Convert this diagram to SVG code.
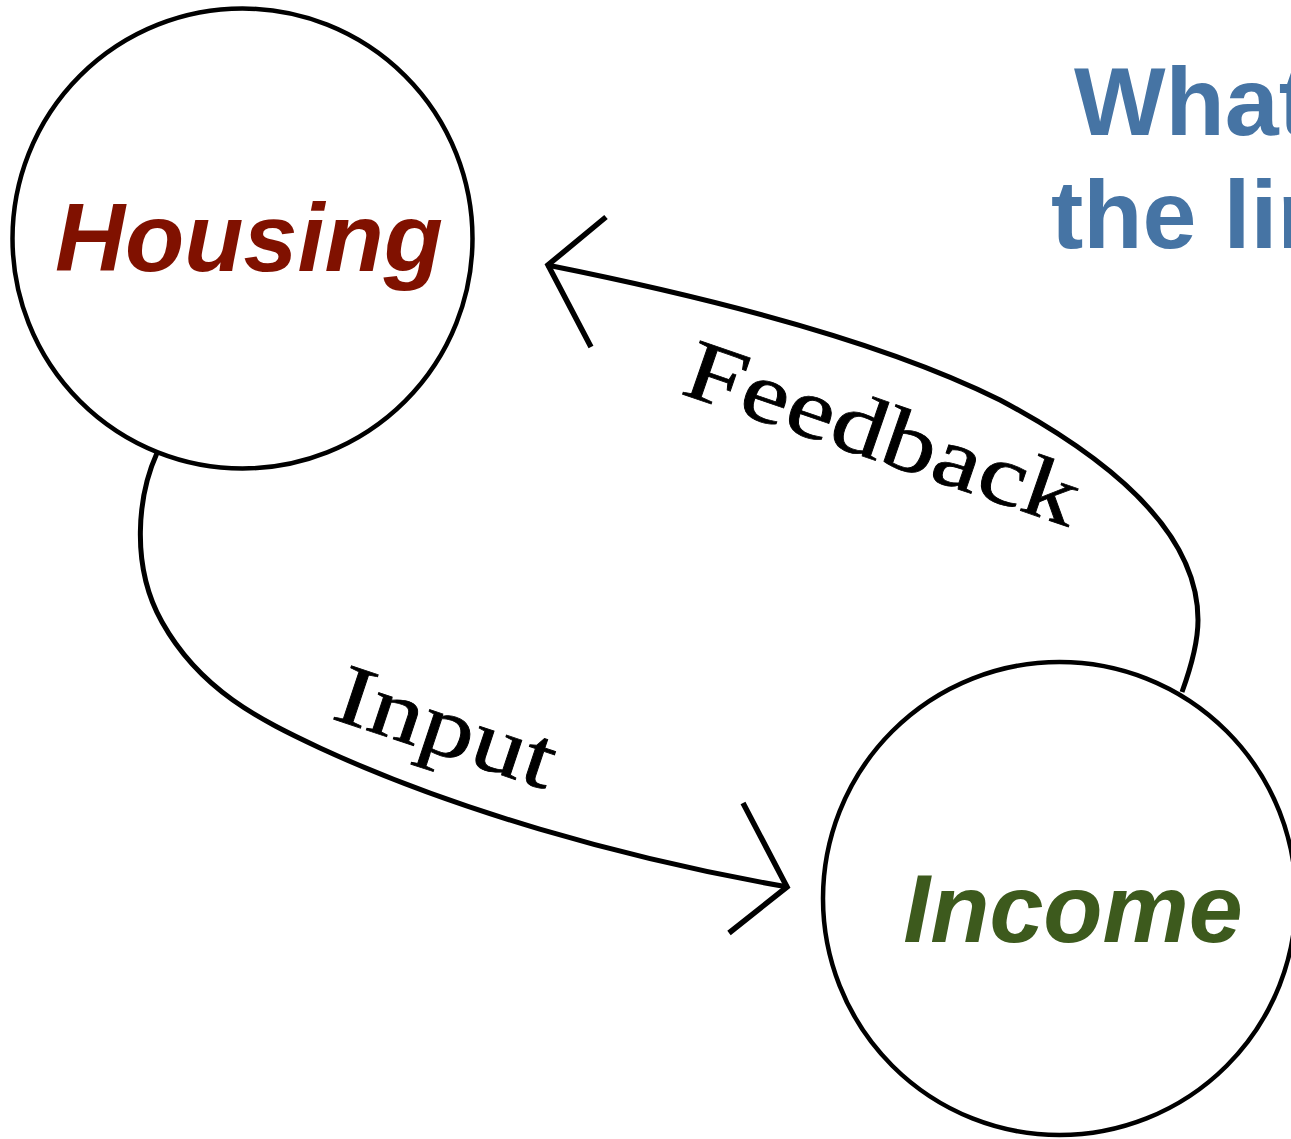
<svg xmlns="http://www.w3.org/2000/svg" width="1291" height="1139" viewBox="0 0 1291 1139">
<style>
.conn{fill:none;stroke:#000;stroke-width:5;}
.head{fill:none;stroke:#000;stroke-width:5.5;stroke-linejoin:miter;stroke-linecap:butt;}
.node{fill:#fff;stroke:#000;stroke-width:4.5;}
.nlabel{font-family:"Liberation Sans",Arial,sans-serif;font-weight:bold;font-style:italic;font-size:97px;text-anchor:middle;}
.elabel{font-family:"Liberation Serif","Times New Roman",serif;font-size:86px;fill:#000;stroke:#000;stroke-width:0.8;}
.title{font-family:"Liberation Sans",Arial,sans-serif;font-weight:bold;font-size:97px;fill:#4674A4;}
</style>
<rect width="1291" height="1139" fill="#fff"/>
<g id="connectors">
  <g id="feedback">
    <path class="conn" d="M1182,692 C1190,670 1198,645 1198,620 C1198,545 1135,472 1000,400 C880,340 697,295 547,265"/>
    <polyline class="head" points="606,217 548,265 591,347"/>
    <text class="elabel" transform="translate(679,393) rotate(19) scale(1.25,1)">Feedback</text>
  </g>
  <g id="input">
    <path class="conn" d="M157,453 C138,495 130,565 162,622 C200,690 260,720 320,748 C450,808 620,858 788,887"/>
    <polyline class="head" points="743,803 787,887 729,933"/>
    <text class="elabel" transform="translate(330,718) rotate(18.4) scale(1.25,1)">Input</text>
  </g>
</g>
<g id="node-housing">
  <circle class="node" cx="242.5" cy="238.5" r="230"/>
  <text class="nlabel" x="249" y="271" fill="#801100">Housing</text>
</g>
<g id="node-income">
  <circle class="node" cx="1059.5" cy="898.5" r="236.5"/>
  <text class="nlabel" x="1073" y="942" fill="#3D5A1D">Income</text>
</g>
<g id="title">
  <text class="title" x="1074" y="135">What</text>
  <text class="title" x="1051" y="248">the lin</text>
</g>
</svg>
